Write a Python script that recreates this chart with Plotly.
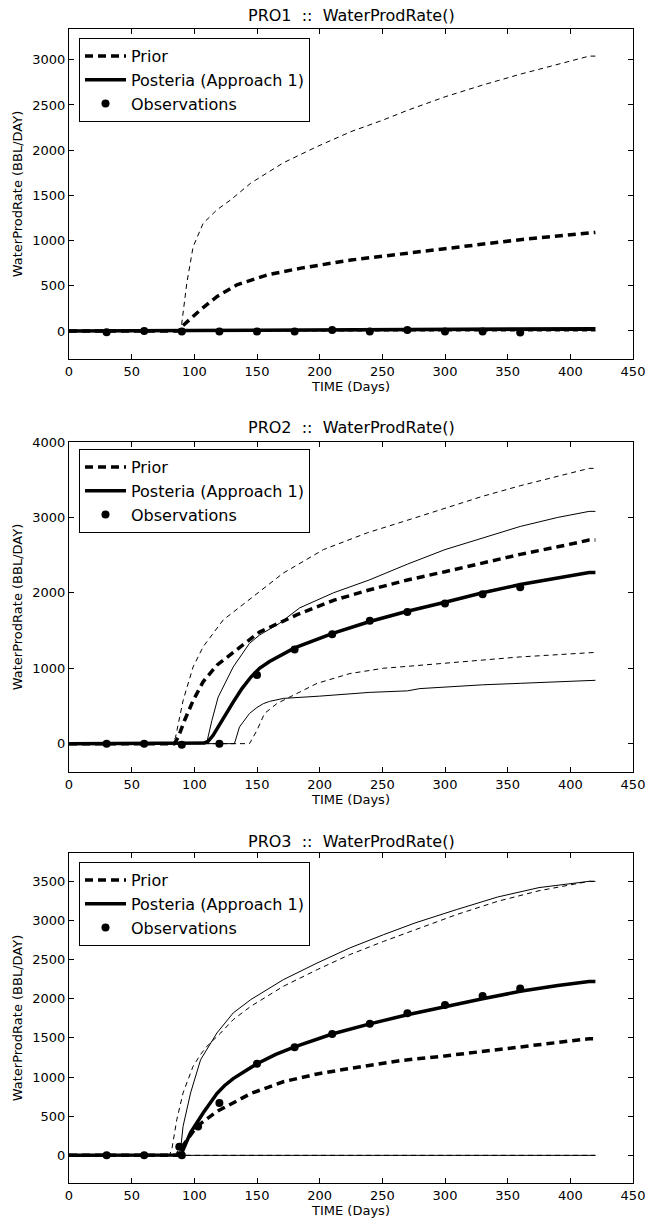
import plotly.graph_objects as go

# ---------------- data ----------------
# PRO1
p1_prior_mean_t = [0, 88, 90, 100, 105, 118, 134, 158, 185, 225, 270, 300, 330, 360, 390, 415, 420]
p1_prior_mean_y = [0, 0, 48, 170, 235, 380, 510, 620, 695, 785, 860, 915, 965, 1010, 1050, 1090, 1090]
p1_prior_hi_t = [0, 88, 90, 94, 99, 107, 118, 129, 145, 171, 198, 225, 250, 270, 300, 330, 360, 390, 415, 420]
p1_prior_hi_y = [0, 0, 85, 530, 930, 1190, 1340, 1450, 1635, 1860, 2040, 2205, 2330, 2440, 2590, 2720, 2840, 2950, 3040, 3040]
p1_prior_lo_t = [0, 420]
p1_prior_lo_y = [0, 0]
p1_post_mean_t = [0, 90, 200, 300, 420]
p1_post_mean_y = [0, 5, 12, 18, 25]
p1_post_hi_t = [0, 90, 200, 300, 420]
p1_post_hi_y = [0, 8, 18, 25, 32]
p1_post_lo_t = [0, 420]
p1_post_lo_y = [0, 5]
p1_obs_t = [30, 60, 90, 120, 150, 180, 210, 240, 270, 300, 330, 360]
p1_obs_y = [-15, 0, -5, -5, -5, -5, 10, -5, 10, -5, -5, -18]

# PRO2
p2_prior_mean_t = [0, 84, 87, 92, 99, 107, 118, 134, 152, 182, 211, 240, 270, 300, 330, 360, 390, 415, 420]
p2_prior_mean_y = [0, 0, 80, 300, 570, 820, 1040, 1250, 1480, 1710, 1900, 2040, 2170, 2280, 2400, 2510, 2610, 2700, 2700]
p2_prior_hi_t = [0, 82, 85, 91, 99, 107, 123, 144, 171, 203, 238, 272, 301, 330, 360, 390, 415, 420]
p2_prior_hi_y = [0, 0, 84, 570, 1017, 1284, 1640, 1907, 2262, 2573, 2796, 2973, 3130, 3280, 3420, 3550, 3650, 3650]
p2_prior_lo_t = [0, 144, 150, 156, 166, 174, 198, 224, 251, 270, 304, 330, 360, 390, 415, 420]
p2_prior_lo_y = [0, 0, 177, 400, 533, 600, 800, 929, 1000, 1025, 1075, 1110, 1150, 1180, 1210, 1210]
p2_post_mean_t = [0, 108, 111, 115, 120, 125, 131, 138, 145, 152, 160, 180, 211, 240, 270, 300, 330, 360, 390, 415, 420]
p2_post_mean_y = [0, 10, 30, 110, 250, 390, 550, 730, 880, 1000, 1090, 1270, 1465, 1620, 1755, 1875, 2000, 2110, 2200, 2270, 2270]
p2_post_hi_t = [0, 110, 114, 119, 131, 144, 152, 168, 184, 211, 240, 270, 300, 330, 360, 390, 415, 420]
p2_post_hi_y = [0, 20, 307, 617, 1017, 1330, 1440, 1596, 1800, 2000, 2173, 2380, 2573, 2730, 2880, 3000, 3080, 3080]
p2_post_lo_t = [0, 132, 136, 144, 150, 155, 160, 171, 200, 240, 270, 280, 300, 330, 360, 390, 415, 420]
p2_post_lo_y = [0, 0, 220, 400, 480, 530, 560, 600, 630, 680, 700, 730, 750, 780, 800, 820, 840, 840]
p2_obs_t = [30, 60, 90, 120, 150, 180, 210, 240, 270, 300, 330, 360]
p2_obs_y = [0, 0, -15, 0, 910, 1250, 1450, 1630, 1745, 1860, 1980, 2075]

# PRO3
p3_prior_mean_t = [0, 86, 88, 102, 118, 145, 171, 198, 224, 264, 300, 330, 360, 390, 415, 420]
p3_prior_mean_y = [0, 0, 60, 370, 560, 790, 940, 1040, 1110, 1210, 1270, 1330, 1390, 1440, 1490, 1490]
p3_prior_hi_t = [0, 80, 82, 86, 91, 99, 105, 110, 121, 131, 145, 171, 198, 224, 251, 276, 309, 342, 375, 415, 420]
p3_prior_hi_y = [0, 0, 73, 456, 797, 1137, 1290, 1392, 1563, 1733, 1903, 2159, 2372, 2564, 2733, 2883, 3074, 3245, 3380, 3500, 3500]
p3_prior_lo_t = [0, 420]
p3_prior_lo_y = [0, 0]
p3_post_mean_t = [0, 86, 88, 90, 97, 107, 118, 124, 131, 140, 150, 165, 180, 210, 240, 270, 300, 330, 360, 390, 415, 420]
p3_post_mean_y = [0, 0, 5, 30, 290, 540, 790, 890, 980, 1070, 1170, 1290, 1385, 1550, 1680, 1795, 1900, 2000, 2095, 2170, 2220, 2220]
p3_post_hi_t = [0, 87, 89, 91, 97, 105, 118, 131, 145, 171, 198, 224, 251, 276, 309, 342, 375, 415, 420]
p3_post_hi_y = [0, 0, 73, 370, 797, 1222, 1563, 1819, 1989, 2244, 2457, 2649, 2819, 2968, 3138, 3300, 3420, 3500, 3500]
p3_post_lo_t = [0, 420]
p3_post_lo_y = [0, 0]
p3_obs_t = [30, 60, 88, 90, 103, 120, 150, 180, 210, 240, 270, 300, 330, 360]
p3_obs_y = [0, 0, 110, 0, 370, 670, 1170, 1380, 1550, 1680, 1815, 1920, 2035, 2130]

titles = ["PRO1  ::  WaterProdRate()", "PRO2  ::  WaterProdRate()", "PRO3  ::  WaterProdRate()"]
y_ranges = [[-310, 3340], [-376, 4000], [-353, 3862]]
y_dticks = [500, 1000, 500]
x_ticks = [0, 50, 100, 150, 200, 250, 300, 350, 400, 450]
legend_names = ["Prior", "Posteria (Approach 1)", "Observations"]

panels = [
    dict(pm=(p1_prior_mean_t, p1_prior_mean_y), ph=(p1_prior_hi_t, p1_prior_hi_y), pl=(p1_prior_lo_t, p1_prior_lo_y),
         qm=(p1_post_mean_t, p1_post_mean_y), qh=(p1_post_hi_t, p1_post_hi_y), ql=(p1_post_lo_t, p1_post_lo_y),
         ob=(p1_obs_t, p1_obs_y)),
    dict(pm=(p2_prior_mean_t, p2_prior_mean_y), ph=(p2_prior_hi_t, p2_prior_hi_y), pl=(p2_prior_lo_t, p2_prior_lo_y),
         qm=(p2_post_mean_t, p2_post_mean_y), qh=(p2_post_hi_t, p2_post_hi_y), ql=(p2_post_lo_t, p2_post_lo_y),
         ob=(p2_obs_t, p2_obs_y)),
    dict(pm=(p3_prior_mean_t, p3_prior_mean_y), ph=(p3_prior_hi_t, p3_prior_hi_y), pl=(p3_prior_lo_t, p3_prior_lo_y),
         qm=(p3_post_mean_t, p3_post_mean_y), qh=(p3_post_hi_t, p3_post_hi_y), ql=(p3_post_lo_t, p3_post_lo_y),
         ob=(p3_obs_t, p3_obs_y)),
]

# ---------------- layout geometry (pixels) ----------------
W, H = 648, 1218
x_left, x_right = 69, 633
plot_tops = [29, 442, 853]
plot_bottoms = [359, 772, 1183]
legend_tops = [38, 449, 862]
title_ys = [16, 427, 841]

FONT = "DejaVu Sans"
THICK_DASH = "8px,5px"
THIN_DASH = "5px,4px"

fig = go.Figure()
layout = dict(width=W, height=H, margin=dict(l=0, r=0, t=0, b=0, autoexpand=False),
              paper_bgcolor="white", plot_bgcolor="white",
              font=dict(family=FONT, color="black", size=13), annotations=[])

for i, p in enumerate(panels):
    n = "" if i == 0 else str(i + 1)
    xa, ya = "x" + n, "y" + n
    leg = "legend" + n

    def line(t, y, width, dash, name=None, show=False, group=None):
        fig.add_trace(go.Scatter(x=t, y=y, mode="lines", xaxis=xa, yaxis=ya,
                                 line=dict(color="black", width=width, dash=dash),
                                 name=name, showlegend=show, legend=leg,
                                 legendgroup=group, hoverinfo="skip"))

    line(*p["pl"], 1, THIN_DASH)
    line(*p["ph"], 1, THIN_DASH)
    line(*p["ql"], 1, "solid")
    line(*p["qh"], 1, "solid")
    line(*p["pm"], 3.5, THICK_DASH, legend_names[0], True, "a")
    line(*p["qm"], 3.5, "solid", legend_names[1], True, "b")
    fig.add_trace(go.Scatter(x=p["ob"][0], y=p["ob"][1], mode="markers", xaxis=xa, yaxis=ya,
                             marker=dict(color="black", size=8), name=legend_names[2],
                             legend=leg, legendgroup="c", showlegend=True))

    axis_common = dict(showgrid=False, zeroline=False, showline=True, linecolor="black",
                       linewidth=1, mirror="ticks", ticks="inside", ticklen=5,
                       tickcolor="black", tickfont=dict(size=13, family=FONT), automargin=False)
    layout["xaxis" + n] = dict(axis_common, range=[0, 450], tickvals=x_ticks,
                               domain=[x_left / W, x_right / W], anchor=ya,
                               title=dict(text="TIME (Days)", standoff=2, font=dict(size=13)))
    layout["yaxis" + n] = dict(axis_common, range=y_ranges[i], dtick=y_dticks[i], tick0=0,
                               domain=[1 - plot_bottoms[i] / H, 1 - plot_tops[i] / H], anchor=xa,
                               title=dict(text="WaterProdRate (BBL/DAY)", standoff=6, font=dict(size=13)))
    layout[leg] = dict(x=79 / W, y=1 - legend_tops[i] / H, xanchor="left", yanchor="top",
                       bordercolor="black", borderwidth=1, bgcolor="white",
                       font=dict(size=16, family=FONT), tracegroupgap=0,
                       traceorder="grouped", itemwidth=41)
    layout["annotations"].append(dict(text=titles[i].replace(" ", "\u00a0"), xref="paper", yref="paper",
                                      x=(x_left + x_right) / 2 / W, y=1 - title_ys[i] / H,
                                      xanchor="center", yanchor="middle", showarrow=False,
                                      font=dict(size=16, family=FONT)))

fig.update_layout(**layout)
fig.write_html("out.html", config={"displayModeBar": False},
               post_script="document.body.style.margin='0';document.body.style.overflow='hidden';")
